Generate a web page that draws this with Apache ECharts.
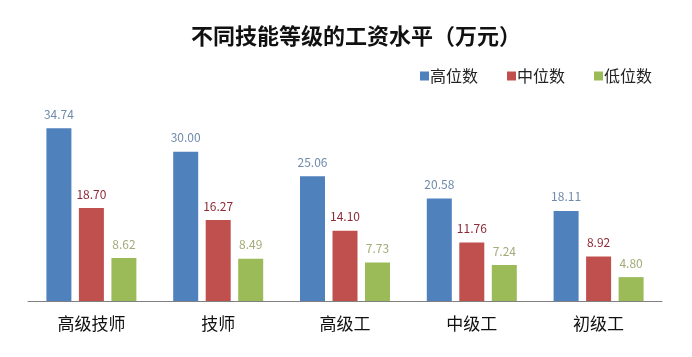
<!DOCTYPE html>
<html>
<head>
<meta charset="utf-8">
<script src="https://cdn.jsdelivr.net/npm/echarts@6/dist/echarts.min.js"></script>
<style>html,body{margin:0;padding:0;background:#fff;}#c{width:692px;height:357px;}</style>
</head>
<body>
<div id="c"></div>
<script>
const categories = ['高级技师', '技师', '高级工', '中级工', '初级工'];
const highValues = [34.74, 30.00, 25.06, 20.58, 18.11];
const midValues = [18.70, 16.27, 14.10, 11.76, 8.92];
const lowValues = [8.62, 8.49, 7.73, 7.24, 4.80];
const seriesNames = ['高位数', '中位数', '低位数'];

const font = '"Noto Sans CJK SC", "Noto Sans", sans-serif';
const chart = echarts.init(document.getElementById('c'), null, {renderer: 'canvas'});

function mk(name, data, color, labelColor) {
  return {
    name: name,
    type: 'bar',
    data: data,
    barWidth: 25,
    barGap: '30%',
    itemStyle: {color: color},
    label: {
      show: true,
      position: 'top',
      distance: 8,
      color: labelColor,
      fontSize: 12,
      fontFamily: font,
      formatter: p => p.value.toFixed(2)
    }
  };
}

chart.setOption({
  animation: false,
  backgroundColor: '#fff',
  title: {
    text: '不同技能等级的工资水平（万元）',
    left: 186,
    top: 20,
    textStyle: {fontSize: 22, fontWeight: 'bold', color: '#111', fontFamily: font}
  },
  legend: {
    data: seriesNames,
    top: 63,
    left: 415,
    itemWidth: 9,
    itemHeight: 9,
    itemGap: 29,
    icon: 'rect',
    textStyle: {fontSize: 16, color: '#222', fontFamily: font, padding: [0, 0, 0, -4]}
  },
  grid: {left: 28, right: 30, top: 102, bottom: 56},
  xAxis: {
    type: 'category',
    data: categories,
    axisLine: {lineStyle: {color: '#808080', width: 1}},
    axisTick: {show: false},
    axisLabel: {fontSize: 17, color: '#111', fontFamily: font, margin: 14}
  },
  yAxis: {
    type: 'value',
    min: 0,
    max: 40,
    interval: 10,
    show: false,
    splitLine: {show: false}
  },
  series: [
    mk(seriesNames[0], highValues, '#4f81bd', '#6e8bab'),
    mk(seriesNames[1], midValues, '#c0504d', '#8e2a36'),
    mk(seriesNames[2], lowValues, '#9bbb59', '#a3ab78')
  ]
});
</script>
</body>
</html>
